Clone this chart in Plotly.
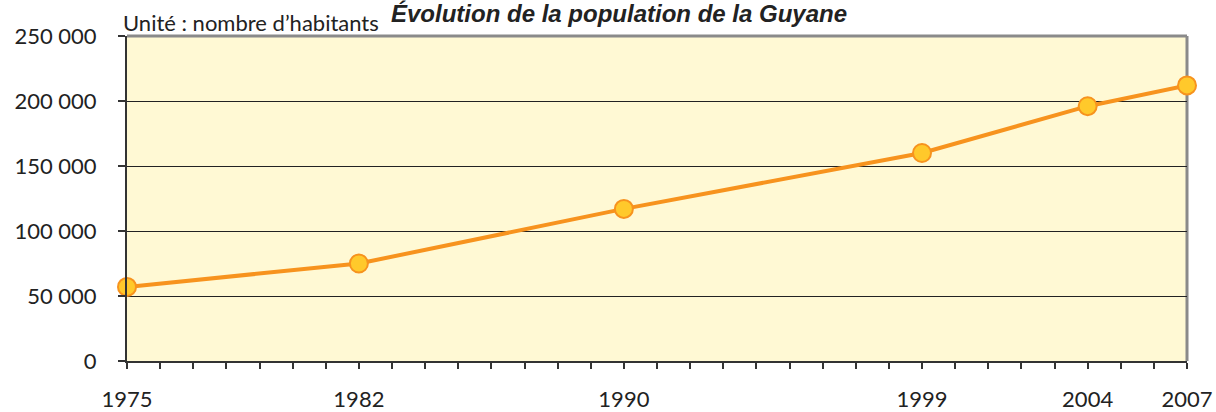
import plotly.graph_objects as go

years = [1975, 1982, 1990, 1999, 2004, 2007]
population = [57000, 75000, 117000, 160000, 196000, 212000]
y_ticks = [0, 50000, 100000, 150000, 200000, 250000]
y_tick_labels = ["0", "50 000", "100 000", "150 000", "200 000", "250 000"]
title_text = "Évolution de la population de la Guyane"
unit_text = "Unité : nombre d’habitants"

fig = go.Figure()
fig.add_trace(go.Scatter(
    x=years, y=population, mode="lines+markers",
    line=dict(color="#F7931E", width=4),
    marker=dict(size=18, color="#FFC92B", line=dict(color="#F7931E", width=2)),
    cliponaxis=False, showlegend=False,
))

# plot frame: top/right grey
fig.add_shape(type="line", xref="paper", yref="paper", x0=0, x1=1, y0=1, y1=1,
              line=dict(color="#8a8a8a", width=3), layer="below")
fig.add_shape(type="line", xref="paper", yref="paper", x0=1, x1=1, y0=0, y1=1,
              line=dict(color="#8a8a8a", width=3), layer="below")

fig.update_layout(
    width=1216, height=412,
    margin=dict(l=127, r=29, t=36, b=51),
    paper_bgcolor="white", plot_bgcolor="#FFF9D4",
    font=dict(family="Lato", size=22, color="#222222"),
    annotations=[
        dict(text="<b><i>" + title_text + "</i></b>", xref="paper", yref="paper",
             x=(619 - 127) / 1060, y=(361 - 14) / 325, xanchor="center", yanchor="middle",
             showarrow=False, font=dict(family="Liberation Sans", size=24, color="#222222")),
        dict(text=unit_text, xref="paper", yref="paper",
             x=(121 - 127) / 1060, y=(361 - 23) / 325, xanchor="left", yanchor="middle",
             showarrow=False, font=dict(family="Lato", size=22, color="#222222")),
    ],
)
fig.update_xaxes(
    range=[1975, 2007], tickmode="array", tickvals=years, ticktext=[str(y) for y in years],
    ticks="outside", ticklen=6, tickcolor="#333", tickwidth=1.5,
    minor=dict(dtick=1, tick0=1975, ticks="outside", ticklen=6, tickcolor="#333", tickwidth=1.5, showgrid=False),
    showline=True, linecolor="#333", linewidth=2, showgrid=False, zeroline=False,
    ticklabelstandoff=12, automargin=False,
)
fig.update_yaxes(
    range=[0, 250000], tickmode="array", tickvals=y_ticks, ticktext=y_tick_labels,
    ticks="outside", ticklen=7, tickcolor="#333", tickwidth=1.5,
    showline=True, linecolor="#333", linewidth=2,
    showgrid=True, gridcolor="#222222", gridwidth=1, zeroline=False,
    ticklabelstandoff=17, automargin=False,
)
fig.write_html("out.html", config={"displayModeBar": False},
               post_script="document.body.style.margin='0';document.body.style.overflow='hidden';")
